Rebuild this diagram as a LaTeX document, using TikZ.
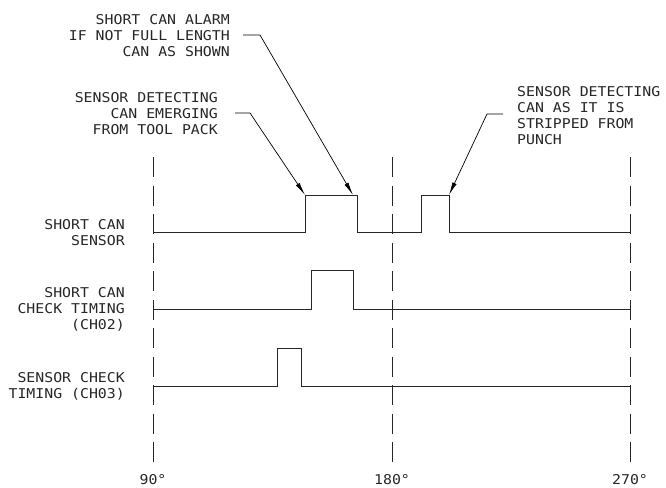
\documentclass[tikz,border=0pt]{standalone}
\usepackage{fontspec}
\newfontfamily\cadfont[FakeStretch=1.1]{DejaVu Sans Mono}
\usetikzlibrary{arrows.meta}
\begin{document}
\begin{tikzpicture}[x=1pt,y=-1pt,
  lbl/.style={font=\cadfont\fontsize{13.5}{16}\selectfont, inner sep=0pt, text=black!85},
  gridline/.style={draw=black!85, line width=0.8pt, dash pattern=on 20pt off 8.5pt},
  signal/.style={draw=black!85, line width=0.9pt, line join=miter},
  leader/.style={draw=black, line width=0.7pt, -{Latex[length=13pt,width=4.5pt]}}]
\useasboundingbox (0,0) rectangle (666,487);

% dashed angle lines
\coordinate (g90t) at (153,157);  \coordinate (g90b) at (153,462);
\coordinate (g180t) at (392,157); \coordinate (g180b) at (392,462);
\coordinate (g270t) at (630,157); \coordinate (g270b) at (630,462);
\draw[gridline] (g90t) -- (g90b);
\draw[gridline] (g180t) -- (g180b);
\draw[gridline] (g270t) -- (g270b);

% angle labels
\node[lbl, anchor=base] (l90) at (153,484) {90°};
\node[lbl, anchor=base] (l180) at (392,484) {180°};
\node[lbl, anchor=base] (l270) at (630,484) {270°};

% signals
\draw[signal] (153,232) -- (305,232) -- (305,195) -- (357,195) -- (357,232)
  -- (421,232) -- (421,195) -- (449,195) -- (449,232) -- (630,232);
\draw[signal] (153,309) -- (311,309) -- (311,270) -- (353,270) -- (353,309) -- (630,309);
\draw[signal] (153,386) -- (277,386) -- (277,348) -- (301,348) -- (301,386) -- (630,386);

% signal names
\node[lbl, align=right, anchor=east] (n1) at (125,232.5) {SHORT CAN\\SENSOR};
\node[lbl, align=right, anchor=east] (n2) at (125,309) {SHORT CAN\\CHECK TIMING\\(CH02)};
\node[lbl, align=right, anchor=east] (n3) at (125,386.5) {SENSOR CHECK\\TIMING (CH03)};

% notes
\node[lbl, align=right, anchor=east] (na) at (230,36) {SHORT CAN ALARM\\IF NOT FULL LENGTH\\CAN AS SHOWN};
\node[lbl, align=right, anchor=east] (nb) at (218,114) {SENSOR DETECTING\\CAN EMERGING\\FROM TOOL PACK};
\node[lbl, align=left, anchor=west] (nc) at (517,116) {SENSOR DETECTING\\CAN AS IT IS\\STRIPPED FROM\\PUNCH};

% leaders
\coordinate (a1) at (243,35);  \coordinate (a2) at (260,35);  \coordinate (ta) at (353,195);
\coordinate (b1) at (235,113); \coordinate (b2) at (250,113); \coordinate (tb) at (305,195);
\coordinate (c1) at (503,114); \coordinate (c2) at (487,114); \coordinate (tc) at (449,195);
\draw[leader] (a1) -- (a2) -- (ta);
\draw[leader] (b1) -- (b2) -- (tb);
\draw[leader] (c1) -- (c2) -- (tc);
\end{tikzpicture}
\end{document}
